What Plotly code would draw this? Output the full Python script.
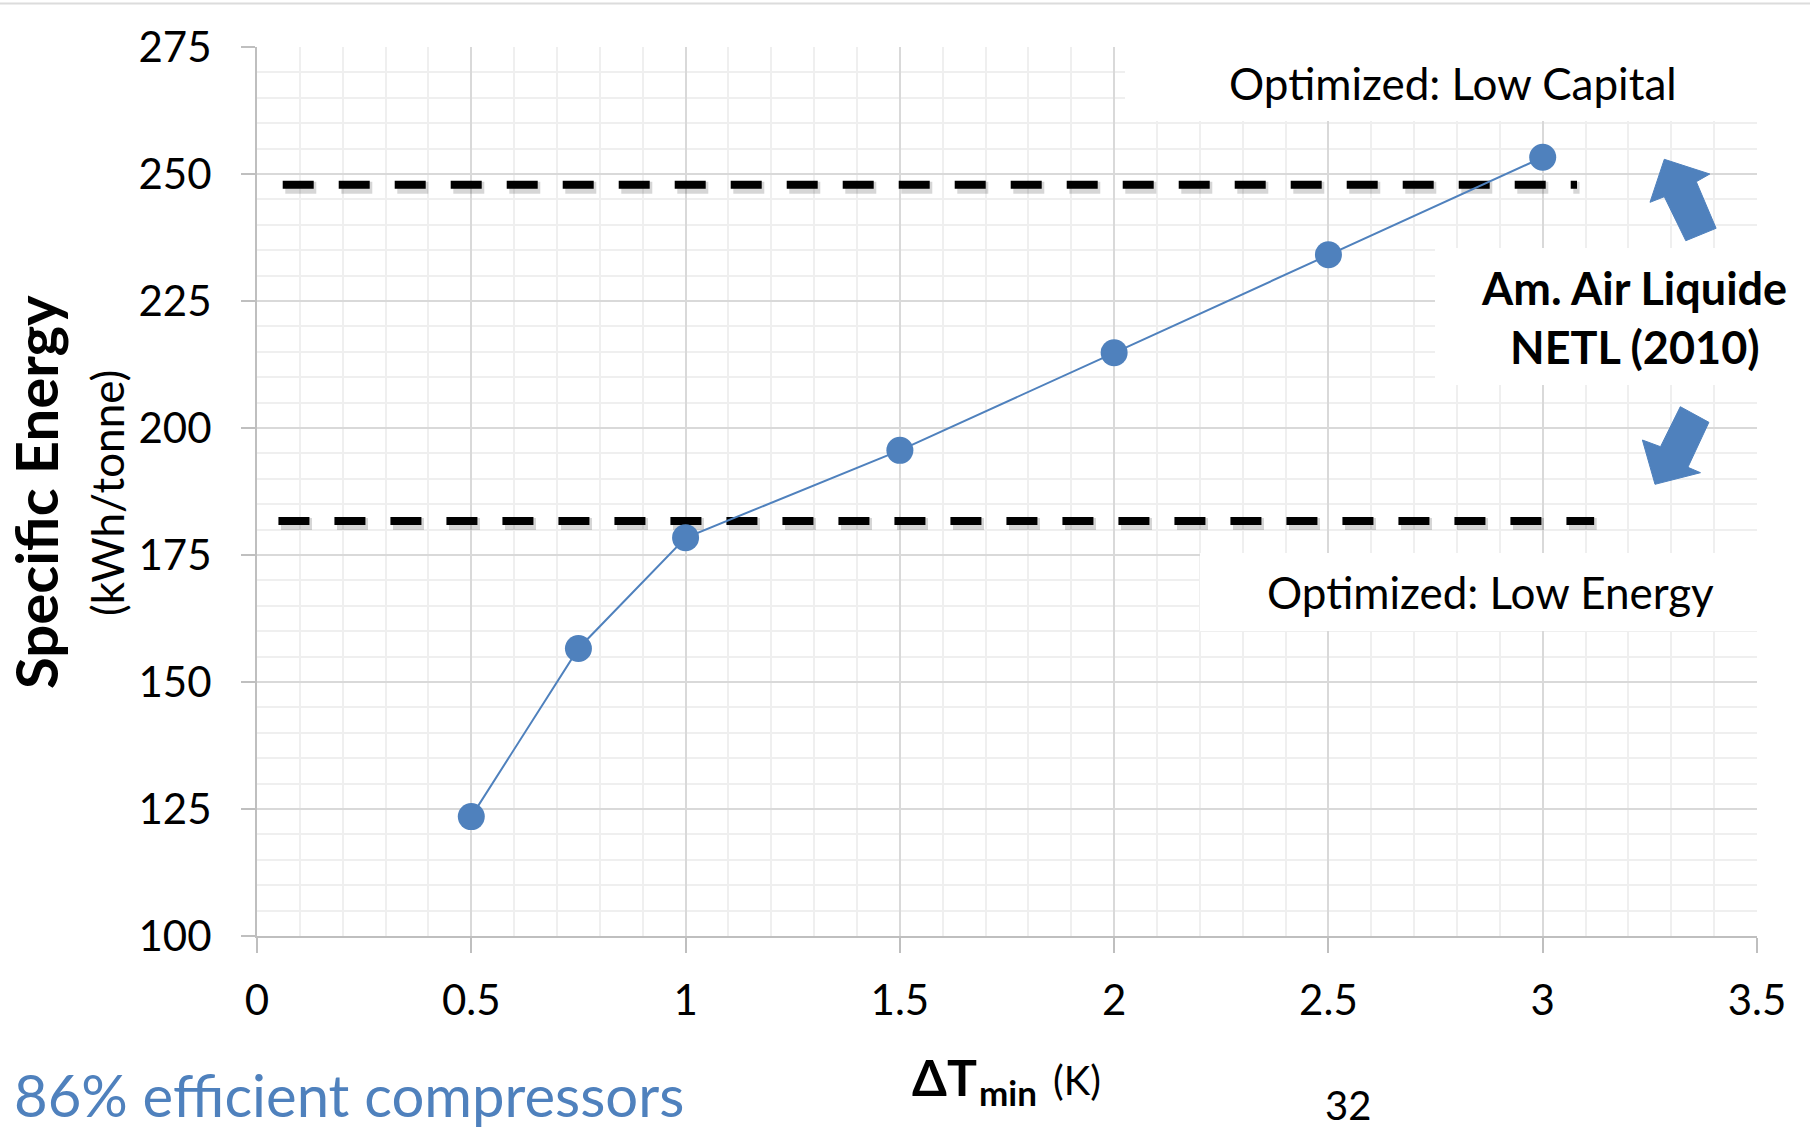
import plotly.graph_objects as go

# Minimum approach temperature sweep and the resulting specific energy
dt_min = [0.5, 0.75, 1.0, 1.5, 2.0, 2.5, 3.0]
specific_energy = [123.5, 156.6, 178.4, 195.6, 214.8, 234.1, 253.3]

# Benchmark levels (Am. Air Liquide / NETL 2010)
low_capital_x = [0.06, 3.08]
low_capital_y = [247.9, 247.9]
low_energy_x = [0.05, 3.12]
low_energy_y = [181.7, 181.7]

x_ticks = [0, 0.5, 1, 1.5, 2, 2.5, 3, 3.5]
x_tick_labels = ["0", "0.5", "1", "1.5", "2", "2.5", "3", "3.5"]
y_ticks = [100, 125, 150, 175, 200, 225, 250, 275]
y_tick_labels = ["100", "125", "150", "175", "200", "225", "250", "275"]

BLUE = "#4f81bd"
FONT = "Lato"

# Page geometry (pixels) and helpers to place decorations
W, H = 1810, 1129
L, R, T, B = 257, 53, 47, 193
PW = W - L - R
PH = H - T - B
X0, X1 = 0.0, 3.5
Y0, Y1 = 100.0, 275.0


def paper_x(p):
    return (p - L) / PW


def paper_y(p):
    return (H - B - p) / PH


def data_x(p):
    return X0 + (p - L) / PW * (X1 - X0)


def data_y(p):
    return Y0 + (H - B - p) / PH * (Y1 - Y0)


fig = go.Figure()

# soft shadow under the dashed benchmark lines
for xs, ys in ((low_capital_x, low_capital_y), (low_energy_x, low_energy_y)):
    fig.add_trace(go.Scatter(
        x=[v + 0.006 for v in xs], y=[v - 0.6 for v in ys], mode="lines",
        line=dict(color="rgba(0,0,0,0.16)", width=12, dash="31px,25px"),
        hoverinfo="skip", showlegend=False,
    ))

for xs, ys in ((low_capital_x, low_capital_y), (low_energy_x, low_energy_y)):
    fig.add_trace(go.Scatter(
        x=xs, y=ys, mode="lines",
        line=dict(color="black", width=8, dash="31px,25px"),
        hoverinfo="skip", showlegend=False,
    ))

fig.add_trace(go.Scatter(
    x=dt_min, y=specific_energy, mode="lines+markers",
    line=dict(color=BLUE, width=2),
    marker=dict(color=BLUE, size=27),
    showlegend=False,
))

shapes = []

# white label panels that mask the grid
for x_a, x_b, y_a, y_b in ((1125, 1800, 0, 121),
                           (1435, 1800, 248, 385),
                           (1200, 1800, 553, 631)):
    shapes.append(dict(
        type="rect", xref="x", yref="y", layer="between",
        x0=data_x(x_a), x1=data_x(x_b), y0=data_y(y_b), y1=data_y(y_a),
        fillcolor="white", line=dict(width=0),
    ))


def arrow_path(points):
    pts = [f"{paper_x(a):.5f},{paper_y(b):.5f}" for a, b in points]
    return "M" + " L".join(pts) + " Z"


up_arrow = [(1664.3, 159.3), (1709.8, 174.0), (1696.3, 181.7), (1716.1, 228.3),
            (1685.8, 240.7), (1664.3, 196.7), (1650.0, 202.3)]
down_arrow = [(1655.0, 484.3), (1642.4, 440.0), (1660.5, 446.7), (1680.3, 406.7),
              (1708.9, 422.3), (1687.9, 467.3), (1700.5, 472.7)]
for pts in (up_arrow, down_arrow):
    shapes.append(dict(
        type="path", xref="paper", yref="paper", layer="above",
        path=arrow_path(pts), fillcolor=BLUE, line=dict(color=BLUE, width=1),
    ))

# thin rule across the top of the page
shapes.append(dict(
    type="line", xref="paper", yref="paper",
    x0=paper_x(0), x1=paper_x(W), y0=paper_y(3.5), y1=paper_y(3.5),
    line=dict(color="#dcdcdc", width=2),
))

annotations = []


def note(text, x, y, size, bold=False, color="black", xanchor="center", angle=0):
    if bold:
        text = f"<b>{text}</b>"
    annotations.append(dict(
        text=text, xref="paper", yref="paper", x=paper_x(x), y=paper_y(y),
        xanchor=xanchor, yanchor="middle", showarrow=False, textangle=angle,
        font=dict(family=FONT, size=size, color=color),
    ))


note("Optimized: Low Capital", 1453, 83, 44)
note("Am. Air Liquide", 1634, 288, 45, bold=True)
note("NETL (2010)", 1635, 346.5, 45, bold=True)
note("Optimized: Low Energy", 1490, 592, 44)
note("Specific Energy", 35, 492, 58, bold=True, angle=-90)
note("(kWh/tonne)", 107, 493, 44, angle=-90)
note("ΔT", 910, 1077, 50, bold=True, xanchor="left")
note("min", 977, 1092, 35, bold=True, xanchor="left")
note("(K)", 1051, 1080, 40, xanchor="left")
note("86% efficient compressors", 12, 1094, 58, color=BLUE, xanchor="left")
note("32", 1348, 1105, 40)

axis_common = dict(
    showline=True, linecolor="#bfbfbf", linewidth=2,
    ticks="outside", tickcolor="#bfbfbf", tickwidth=2,
    showgrid=True, gridcolor="#d9d9d9", gridwidth=2,
    zeroline=False,
    tickfont=dict(family=FONT, size=42, color="black"),
)

fig.update_layout(
    width=W, height=H,
    margin=dict(l=L, r=R, t=T, b=B),
    paper_bgcolor="white", plot_bgcolor="white",
    shapes=shapes, annotations=annotations,
    xaxis=dict(
        range=[X0, X1], tickvals=x_ticks, ticktext=x_tick_labels,
        ticklen=15, ticklabelstandoff=12,
        minor=dict(dtick=0.1, showgrid=True, gridcolor="#efefef", gridwidth=1.5, ticks=""),
        **axis_common,
    ),
    yaxis=dict(
        range=[Y0, Y1], tickvals=y_ticks, ticktext=y_tick_labels,
        ticklen=14, ticklabelstandoff=21,
        minor=dict(dtick=5, showgrid=True, gridcolor="#efefef", gridwidth=1.5, ticks=""),
        **axis_common,
    ),
)

fig.write_html("out.html")
